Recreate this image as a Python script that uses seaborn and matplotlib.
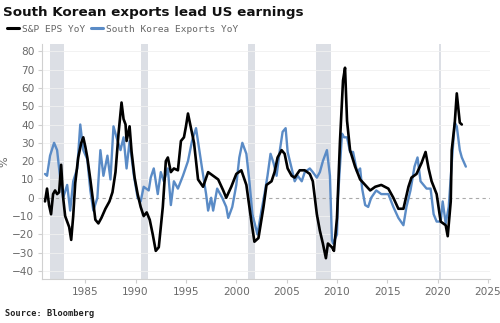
import matplotlib
matplotlib.use("Agg")
import matplotlib.pyplot as plt
import seaborn as sns
import pandas as pd
from matplotlib.lines import Line2D

# ---- data ----
spx_years = [1981.0, 1981.2, 1981.4, 1981.6, 1981.8, 1982.0, 1982.2, 1982.4, 1982.6, 1982.8,
             1983.0, 1983.2, 1983.4, 1983.6, 1983.8, 1984.0, 1984.3, 1984.6, 1984.8, 1985.0,
             1985.2, 1985.5, 1985.8, 1986.0, 1986.3, 1986.6, 1987.0, 1987.4, 1987.7, 1988.0,
             1988.3, 1988.6, 1988.8, 1989.0, 1989.1, 1989.4, 1989.6, 1989.9, 1990.2, 1990.5,
             1990.8, 1991.1, 1991.4, 1991.7, 1992.0, 1992.3, 1992.7, 1993.0, 1993.2, 1993.5,
             1993.8, 1994.2, 1994.5, 1994.8, 1995.0, 1995.2, 1995.5, 1995.8, 1996.2, 1996.7,
             1997.2, 1997.7, 1998.2, 1998.7, 1999.0, 1999.5, 2000.0, 2000.5, 2001.0, 2001.5,
             2001.8, 2002.2, 2002.7, 2003.0, 2003.5, 2003.8, 2004.1, 2004.5, 2004.8, 2005.1,
             2005.5, 2005.8, 2006.3, 2006.8, 2007.3, 2007.6, 2008.0, 2008.3, 2008.6, 2008.9,
             2009.1, 2009.5, 2009.7, 2010.0, 2010.3, 2010.6, 2010.8, 2011.0, 2011.3, 2011.8,
             2012.3, 2012.8, 2013.3, 2013.8, 2014.4, 2015.1, 2015.6, 2016.1, 2016.6, 2017.1,
             2017.4, 2017.9, 2018.4, 2018.8, 2019.1, 2019.4, 2019.9, 2020.3, 2020.8, 2021.0,
             2021.3, 2021.4, 2021.7, 2021.9, 2022.2, 2022.4]
spx_eps = [-2, 5, -4, -9, 2, 4, 2, 3, 18, 0,
           -10, -13, -16, -23, -10, 8, 22, 30, 33, 28,
           22, 10, -3, -12, -14, -11, -6, -2, 3, 14,
           35, 52, 43, 40, 31, 39, 25, 11, 2, -5,
           -10, -8, -12, -20, -29, -27, -5, 20, 22, 14,
           16, 15, 31, 33, 39, 46, 38, 30, 10, 6,
           14, 12, 10, 4, 0, 6, 13, 15, 7, -13,
           -24, -22, -5, 7, 9, 14, 22, 26, 24, 16,
           12, 11, 15, 15, 13, 9, -9, -18, -25, -33,
           -25, -27, -29, -11, 31, 64, 71, 42, 26, 17,
           10, 7, 4, 6, 7, 5, 0, -6, -6, 6,
           11, 13, 19, 25, 16, 9, 2, -13, -15, -21,
           -2, 26, 41, 57, 41, 40]

kor_years = [1981.0, 1981.2, 1981.5, 1981.9, 1982.2, 1982.5, 1982.8, 1983.2, 1983.5, 1983.8,
             1984.2, 1984.5, 1984.8, 1985.2, 1985.5, 1985.8, 1986.2, 1986.5, 1986.8, 1987.2,
             1987.5, 1987.8, 1988.1, 1988.5, 1988.8, 1989.1, 1989.4, 1989.8, 1990.2, 1990.5,
             1990.8, 1991.3, 1991.5, 1991.8, 1992.2, 1992.5, 1992.8, 1993.2, 1993.5, 1993.8,
             1994.2, 1994.7, 1995.2, 1995.6, 1996.0, 1996.3, 1996.6, 1997.0, 1997.2, 1997.5,
             1997.7, 1998.1, 1998.6, 1999.0, 1999.2, 1999.6, 2000.0, 2000.3, 2000.6, 2001.0,
             2001.3, 2001.6, 2002.1, 2002.5, 2002.8, 2003.1, 2003.4, 2003.7, 2004.0, 2004.3,
             2004.6, 2004.9, 2005.1, 2005.5, 2005.8, 2006.1, 2006.5, 2006.8, 2007.3, 2007.6,
             2008.0, 2008.3, 2008.6, 2009.0, 2009.3, 2009.5, 2009.6, 2010.0, 2010.1, 2010.5,
             2010.7, 2011.0, 2011.3, 2011.6, 2012.0, 2012.3, 2012.5, 2012.8, 2013.1, 2013.4,
             2013.9, 2014.4, 2015.1, 2015.6, 2016.1, 2016.6, 2016.9, 2017.3, 2017.7, 2018.0,
             2018.3, 2018.6, 2018.9, 2019.3, 2019.6, 2019.9, 2020.3, 2020.5, 2020.8, 2021.1,
             2021.4, 2021.7, 2021.9, 2022.2, 2022.4, 2022.8]
kor_exports = [13, 12, 23, 30, 26, 11, 0, 7, -7, 9,
               16, 40, 26, 21, 4, -7, 0, 26, 12, 23,
               10, 39, 33, 26, 33, 16, 31, 13, 0, -2,
               6, 4, 11, 16, 2, 14, 9, 16, -4, 9,
               5, 12, 20, 31, 38, 27, 16, 2, -7, 0,
               -7, 5, 0, -5, -11, -5, 7, 22, 30, 24,
               9, -9, -20, -7, 2, 12, 24, 19, 12, 25,
               36, 38, 25, 16, 9, 12, 9, 14, 16, 14,
               11, 14, 20, 26, 12, -23, -25, -20, 0, 35,
               33, 33, 25, 25, 14, 16, 5, -4, -5, 0,
               4, 2, 2, -5, -11, -15, -5, 4, 17, 22,
               9, 7, 5, 5, -9, -13, -13, -2, -14, -5,
               19, 41, 39, 26, 22, 17]

recession_start = [1981.5, 1990.55, 2001.15, 2007.95, 2020.1]
recession_end = [1982.85, 1991.2, 2001.85, 2009.45, 2020.35]

x_ticks = [1985, 1990, 1995, 2000, 2005, 2010, 2015, 2020, 2025]
y_ticks = [-40, -30, -20, -10, 0, 10, 20, 30, 40, 50, 60, 70, 80]

# ---- plotting ----
sns.set_theme(style="white")
plt.rcParams['font.family'] = ['DejaVu Sans']

BLUE = "#5a8bc6"
fig = plt.figure(figsize=(5.0, 3.23), dpi=100)
ax = fig.add_axes([0.084, 0.136, 0.896, 0.728])

for s, e in zip(recession_start, recession_end):
    ax.axvspan(s, e, color="#dcdfe5", lw=0, zorder=0)

for y in y_ticks:
    if y != 0:
        ax.axhline(y, color="#f0f0f0", lw=0.6, zorder=0.5)
ax.axhline(0, color="#aaaaaa", lw=0.8, ls=(0, (3, 3)), zorder=1)

df_spx = pd.DataFrame({"year": spx_years, "val": spx_eps})
df_kor = pd.DataFrame({"year": kor_years, "val": kor_exports})
sns.lineplot(data=df_kor, x="year", y="val", ax=ax, color=BLUE, lw=1.7, zorder=2)
sns.lineplot(data=df_spx, x="year", y="val", ax=ax, color="black", lw=1.9, zorder=3)

ax.set_xlim(1980.7, 2025.2)
ax.set_ylim(-44.4, 84)
ax.set_xticks(x_ticks)
ax.set_yticks(y_ticks)
ax.set_xlabel("")
ax.set_ylabel("%", color="#666666", fontsize=8, labelpad=2)

for sp in ["top", "right"]:
    ax.spines[sp].set_visible(False)
for sp in ["left", "bottom"]:
    ax.spines[sp].set_color("#d0d0d0")
    ax.spines[sp].set_linewidth(0.8)

ax.tick_params(axis="both", which="both", colors="#d0d0d0", labelcolor="#6a6a6a",
               labelsize=7.6, length=3, width=0.8, pad=2.5, bottom=True, left=True)

fig.text(0.006, 0.962, "South Korean exports lead US earnings", fontsize=9.7,
         fontweight="bold", color="#111111", va="center", ha="left")

handles = [Line2D([0], [0], color="black", lw=2.2),
           Line2D([0], [0], color=BLUE, lw=2.2)]
leg = fig.legend(handles, ["S&P EPS YoY", "South Korea Exports YoY"],
                 loc="center left", bbox_to_anchor=(-0.004, 0.91), ncol=2,
                 frameon=False, handlelength=1.3, handletextpad=0.3, columnspacing=0.6,
                 prop={"family": "DejaVu Sans Mono", "size": 6.8}, labelcolor="#666666")

fig.text(0.01, 0.03, "Source: Bloomberg", fontsize=6.2, fontweight="bold",
         family="DejaVu Sans Mono", color="#222222", va="center", ha="left")

fig.savefig("out.png", dpi=100, facecolor="white")
